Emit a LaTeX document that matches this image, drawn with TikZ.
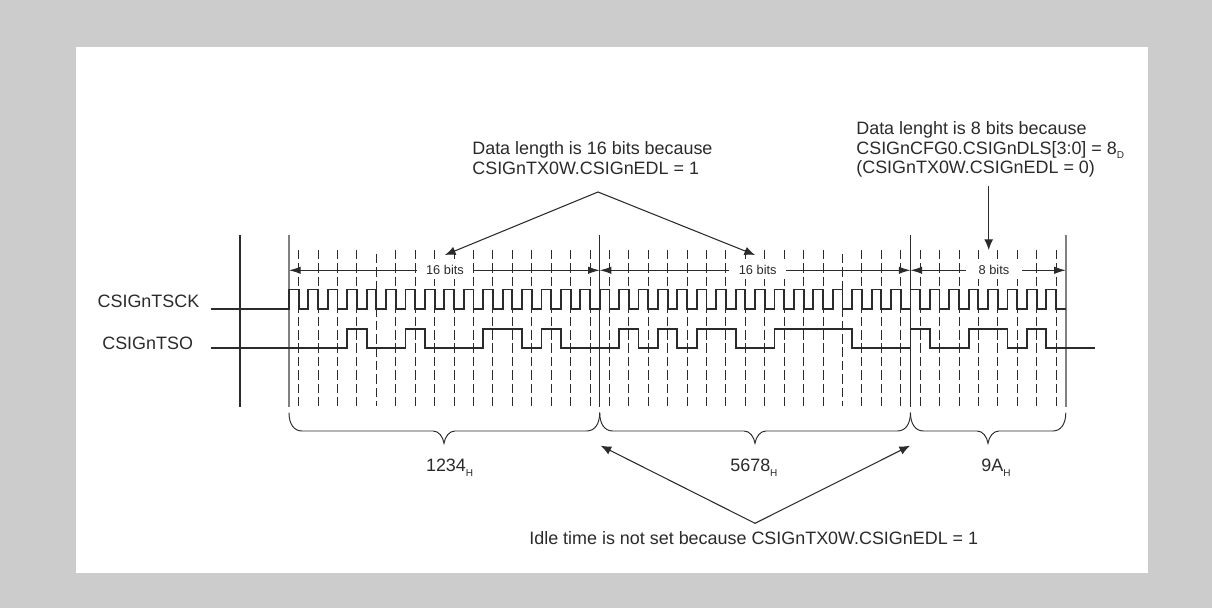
\documentclass[tikz,border=0pt]{standalone}
\usepackage{fontspec}
\setmainfont{Liberation Sans}
\usetikzlibrary{arrows.meta}
\definecolor{sheetgray}{HTML}{CCCCCC}
\definecolor{inkgray}{HTML}{2B2B2B}
\newcommand{\lowmark}[1]{\raisebox{-2.8pt}{\fontsize{5.7}{6}\selectfont #1}}
\tikzset{
  label/.style={inner sep=0pt,text=inkgray,align=left,font=\fontsize{10.2}{11.2}\selectfont},
  bitslabel/.style={fill=white,inner sep=0pt,minimum width=1.12cm,minimum height=0.34cm,text=inkgray,font=\fontsize{7.3}{8.5}\selectfont},
  tick/.style={line width=0.55pt,inkgray,dash pattern=on 5.4pt off 2.2pt},
  bound/.style={line width=0.6pt,inkgray},
  edgebound/.style={line width=0.9pt,gray},
  wave/.style={line width=1.05pt,inkgray},
  brace/.style={line width=0.55pt,inkgray},
  dimarrow/.style={line width=0.55pt,inkgray,-{Latex[length=6.6pt,width=4.2pt]}},
  callout/.style={line width=0.6pt,inkgray,-{Latex[length=6pt,width=5pt]}}
}
\begin{document}
\begin{tikzpicture}
\useasboundingbox (0,0) rectangle (24.240,12.160);
\fill[sheetgray] (0,0) rectangle (24.240,12.160);
\fill[white] (1.514,0.706) rectangle (22.960,11.226);
% dashed clock ticks
\draw[tick] (5.974,7.160) -- (5.974,4.046);
\draw[tick] (6.363,7.160) -- (6.363,4.046);
\draw[tick] (6.751,7.160) -- (6.751,4.046);
\draw[tick] (7.139,7.160) -- (7.139,4.046);
\draw[tick] (7.528,7.080) -- (7.528,4.046);
\draw[tick] (7.916,7.160) -- (7.916,4.046);
\draw[tick] (8.305,7.160) -- (8.305,4.046);
\draw[tick] (8.693,7.160) -- (8.693,4.046);
\draw[tick] (9.081,7.160) -- (9.081,4.046);
\draw[tick] (9.470,7.160) -- (9.470,4.046);
\draw[tick] (9.858,7.160) -- (9.858,4.046);
\draw[tick] (10.247,7.160) -- (10.247,4.046);
\draw[tick] (10.635,7.160) -- (10.635,4.046);
\draw[tick] (11.023,7.160) -- (11.023,4.046);
\draw[tick] (11.412,7.160) -- (11.412,4.046);
\draw[tick] (11.800,7.160) -- (11.800,4.046);
\draw[tick] (12.189,7.160) -- (12.189,4.046);
\draw[tick] (12.577,7.160) -- (12.577,4.046);
\draw[tick] (12.965,7.160) -- (12.965,4.046);
\draw[tick] (13.354,7.160) -- (13.354,4.046);
\draw[tick] (13.742,7.160) -- (13.742,4.046);
\draw[tick] (14.131,7.160) -- (14.131,4.046);
\draw[tick] (14.519,7.160) -- (14.519,4.046);
\draw[tick] (14.907,7.160) -- (14.907,4.046);
\draw[tick] (15.296,7.160) -- (15.296,4.046);
\draw[tick] (15.684,7.160) -- (15.684,4.046);
\draw[tick] (16.073,7.160) -- (16.073,4.046);
\draw[tick] (16.461,7.160) -- (16.461,4.046);
\draw[tick] (16.849,7.080) -- (16.849,4.046);
\draw[tick] (17.238,7.160) -- (17.238,4.046);
\draw[tick] (17.626,7.160) -- (17.626,4.046);
\draw[tick] (18.015,7.160) -- (18.015,4.046);
\draw[tick] (18.403,7.160) -- (18.403,4.046);
\draw[tick] (18.791,7.160) -- (18.791,4.046);
\draw[tick] (19.180,7.160) -- (19.180,4.046);
\draw[tick] (19.568,7.160) -- (19.568,4.046);
\draw[tick] (19.957,7.160) -- (19.957,4.046);
\draw[tick] (20.345,7.160) -- (20.345,4.046);
\draw[tick] (20.733,7.160) -- (20.733,4.046);
\draw[tick] (21.122,7.160) -- (21.122,4.046);
% solid boundaries
\draw[bound] (4.800,7.460) -- (4.800,4.026);
\draw[edgebound] (5.780,7.460) -- (5.780,4.026);
\draw[bound] (11.994,7.460) -- (11.994,4.026);
\draw[bound] (18.209,7.460) -- (18.209,4.026);
\draw[edgebound] (21.316,7.460) -- (21.316,4.026);
% bit counts
\coordinate (mark0) at (5.780,6.754);
\coordinate (mark16) at (11.994,6.754);
\coordinate (mark32) at (18.209,6.754);
\coordinate (mark40) at (21.316,6.754);
\node[bitslabel] (bitsa) at (8.900,6.754) {16 bits};
\node[bitslabel] (bitsb) at (15.154,6.754) {16 bits};
\node[bitslabel] (bitsc) at (19.880,6.754) {8 bits};
\draw[dimarrow] (bitsa) -- (mark0);
\draw[dimarrow] (bitsa) -- (mark16);
\draw[dimarrow] (bitsb) -- (mark16);
\draw[dimarrow] (bitsb) -- (mark32);
\draw[dimarrow] (bitsc) -- (mark32);
\draw[dimarrow] (bitsc) -- (mark40);
% clock
\draw[wave] (4.214,5.974) -| (5.780,6.370) -| (5.974,5.974) -| (6.168,6.370) -| (6.363,5.974)
 -| (6.557,6.370) -| (6.751,5.974) -| (6.945,6.370) -| (7.139,5.974) -| (7.334,6.370) -| (7.528,5.974)
 -| (7.722,6.370) -| (7.916,5.974) -| (8.110,6.370) -| (8.305,5.974) -| (8.499,6.370) -| (8.693,5.974)
 -| (8.887,6.370) -| (9.081,5.974) -| (9.276,6.370) -| (9.470,5.974) -| (9.664,6.370) -| (9.858,5.974)
 -| (10.052,6.370) -| (10.247,5.974) -| (10.441,6.370) -| (10.635,5.974) -| (10.829,6.370) -| (11.023,5.974)
 -| (11.218,6.370) -| (11.412,5.974) -| (11.606,6.370) -| (11.800,5.974) -| (11.994,6.370) -| (12.189,5.974)
 -| (12.383,6.370) -| (12.577,5.974) -| (12.771,6.370) -| (12.965,5.974) -| (13.160,6.370) -| (13.354,5.974)
 -| (13.548,6.370) -| (13.742,5.974) -| (13.936,6.370) -| (14.131,5.974) -| (14.325,6.370) -| (14.519,5.974)
 -| (14.713,6.370) -| (14.907,5.974) -| (15.102,6.370) -| (15.296,5.974) -| (15.490,6.370) -| (15.684,5.974)
 -| (15.878,6.370) -| (16.073,5.974) -| (16.267,6.370) -| (16.461,5.974) -| (16.655,6.370) -| (16.849,5.974)
 -| (17.044,6.370) -| (17.238,5.974) -| (17.432,6.370) -| (17.626,5.974) -| (17.820,6.370) -| (18.015,5.974)
 -| (18.209,6.370) -| (18.403,5.974) -| (18.597,6.370) -| (18.791,5.974) -| (18.986,6.370) -| (19.180,5.974)
 -| (19.374,6.370) -| (19.568,5.974) -| (19.762,6.370) -| (19.957,5.974) -| (20.151,6.370) -| (20.345,5.974)
 -| (20.539,6.370) -| (20.733,5.974) -| (20.928,6.370) -| (21.122,5.974) -- (21.316,5.974);
% data
\draw[wave] (4.214,5.200) -| (6.945,5.586) -| (7.334,5.200) -| (8.110,5.586) -| (8.499,5.200)
 -| (9.664,5.586) -| (10.441,5.200) -| (10.829,5.586) -| (11.218,5.200)
 -| (12.383,5.586) -| (12.771,5.200) -| (13.160,5.586) -| (13.548,5.200)
 -| (13.936,5.586) -| (14.713,5.200) -| (15.490,5.586) -| (17.044,5.200)
 -| (18.209,5.586) -| (18.597,5.200) -| (19.374,5.586) -| (20.151,5.200)
 -| (20.539,5.586) -| (20.928,5.200) -- (21.900,5.200);
\node[label,anchor=west] (clklabel) at (1.946,6.126) {CSIGnTSCK};
\node[label,anchor=west] (datalabel) at (2.040,5.300) {CSIGnTSO};
% braces
\draw[brace] (5.780,3.906) .. controls (5.780,3.680) and (5.880,3.540) .. (6.040,3.540) -- (8.660,3.540)
 .. controls (8.780,3.540) and (8.860,3.420) .. (8.880,3.294) .. controls (8.900,3.420) and (8.980,3.540) .. (9.100,3.540)
 -- (11.734,3.540) .. controls (11.894,3.540) and (11.994,3.680) .. (11.994,3.906);
\draw[brace] (11.994,3.906) .. controls (11.994,3.680) and (12.094,3.540) .. (12.254,3.540) -- (14.880,3.540)
 .. controls (15.000,3.540) and (15.080,3.420) .. (15.100,3.294) .. controls (15.120,3.420) and (15.200,3.540) .. (15.320,3.540)
 -- (17.949,3.540) .. controls (18.109,3.540) and (18.209,3.680) .. (18.209,3.906);
\draw[brace] (18.209,3.906) .. controls (18.209,3.680) and (18.309,3.540) .. (18.469,3.540) -- (19.540,3.540)
 .. controls (19.660,3.540) and (19.740,3.420) .. (19.760,3.294) .. controls (19.780,3.420) and (19.860,3.540) .. (19.980,3.540)
 -- (21.056,3.540) .. controls (21.216,3.540) and (21.316,3.680) .. (21.316,3.906);
\node[label,anchor=west] (worda) at (8.514,2.800) {1234\lowmark{H}};
\node[label,anchor=west] (wordb) at (14.600,2.800) {5678\lowmark{H}};
\node[label,anchor=west] (wordc) at (19.620,2.800) {9A\lowmark{H}};
% notes
\node[label,anchor=north west] (notelong) at (9.440,9.340) {Data length is 16 bits because\\CSIGnTX0W.CSIGnEDL = 1};
\node[label,anchor=north west] (noteshort) at (17.120,9.740) {Data lenght is 8 bits because\\CSIGnCFG0.CSIGnDLS[3:0] = 8\lowmark{D}\\(CSIGnTX0W.CSIGnEDL = 0)};
\node[label,anchor=west] (noteidle) at (10.580,1.400) {Idle time is not set because CSIGnTX0W.CSIGnEDL = 1};
\coordinate (apextop) at (11.960,8.320);
\coordinate (tiplonga) at (8.900,7.060);
\coordinate (tiplongb) at (15.100,7.060);
\coordinate (apexidle) at (15.100,1.694);
\coordinate (tipidlea) at (12.014,3.246);
\coordinate (tipidleb) at (18.200,3.246);
\coordinate (startshort) at (19.774,8.440);
\coordinate (tipshort) at (19.774,7.160);
\draw[callout] (apextop) -- (tiplonga);
\draw[callout] (apextop) -- (tiplongb);
\draw[callout] (apexidle) -- (tipidlea);
\draw[callout] (apexidle) -- (tipidleb);
\draw[callout] (startshort) -- (tipshort);
\end{tikzpicture}
\end{document}
